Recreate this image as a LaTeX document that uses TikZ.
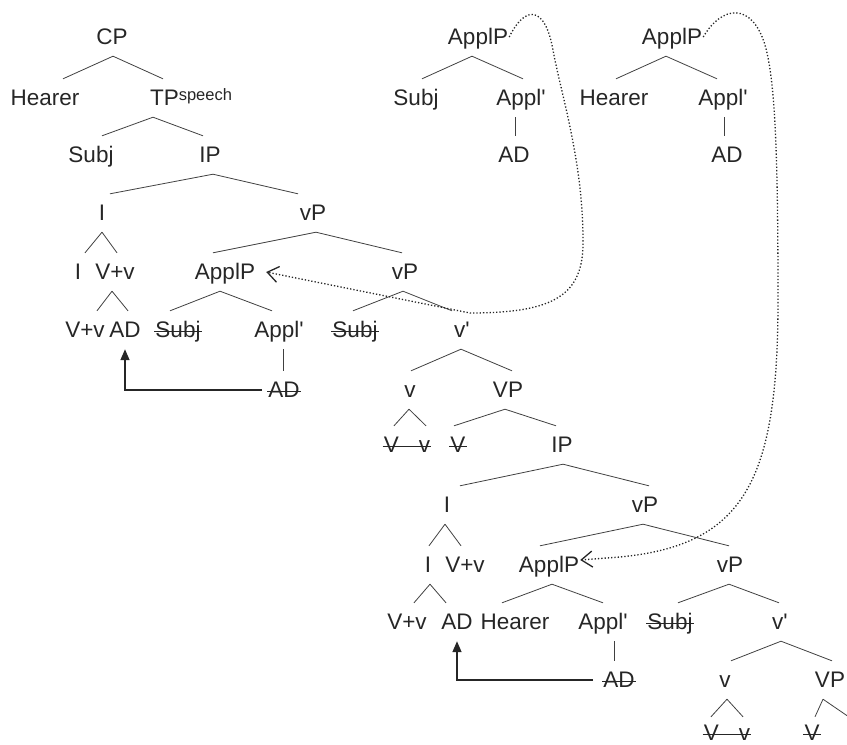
\documentclass[tikz,border=0pt]{standalone}
\usepackage{fontspec}
\setmainfont{Liberation Sans}
\usetikzlibrary{arrows.meta}
\newcommand{\apos}{\textquotesingle}

\begin{document}
\begin{tikzpicture}[x=1pt,y=-1pt,
  cat/.style={font=\fontsize{22.5}{27}\selectfont,text=black!85,inner xsep=1pt,inner ysep=0pt,
    text height=18pt,text depth=3pt,minimum height=38pt},
  lastrow/.style={text depth=1pt,minimum height=30pt},
  branch/.style={draw=black!75,line width=0.8pt},
  strike/.style={draw=black!85,line width=1.4pt},
  move/.style={draw=black!85,line width=1.5pt,-{Triangle[length=11pt,width=9pt]}},
  copy/.style={draw=black!85,line width=1.3pt,dotted,-{Straight Barb[length=11pt,width=16pt]}}]
\path[use as bounding box,clip] (0,0) rectangle (847,745);
% main tree
\node[cat] (cp) at (112,37) {CP};
\node[cat] (hearerA) at (45,98) {Hearer};
\node[cat] (tpS) at (191,98) {TP\raisebox{5pt}{\fontsize{16.5}{17}\selectfont speech}};
\node[cat] (subjA) at (91,155) {Subj};
\node[cat] (ipA) at (210,155) {IP};
\node[cat] (iA) at (102,213) {I};
\node[cat] (vpA) at (313,213) {vP};
\node[cat] (iB) at (78,272) {I};
\node[cat] (vvA) at (115,272) {V+v};
\node[cat] (applA) at (225,272) {ApplP};
\node[cat] (vpB) at (405,272) {vP};
\node[cat] (vvB) at (85,330) {V+v};
\node[cat] (adA) at (125,330) {AD};
\node[cat] (subjB) at (178,330) {Subj};
\node[cat] (applbarA) at (279,330) {Appl\apos};
\node[cat] (subjC) at (355,330) {Subj};
\node[cat] (vbarA) at (462,330) {v\apos};
\node[cat] (adB) at (284,390) {AD};
\node[cat] (vA) at (410,390) {v};
\node[cat] (vpC) at (508,390) {VP};
\node[cat] (vvC) at (407,445) {V\kern20pt v};
\node[cat] (vtrA) at (458,445) {V};
\node[cat] (ipB) at (562,445) {IP};
\node[cat] (iC) at (447,505) {I};
\node[cat] (vpD) at (645,505) {vP};
\node[cat] (iD) at (428,565) {I};
\node[cat] (vvD) at (465,565) {V+v};
\node[cat] (applB) at (549,565) {ApplP};
\node[cat] (vpE) at (730,565) {vP};
\node[cat] (vvE) at (407,622) {V+v};
\node[cat] (adC) at (457,622) {AD};
\node[cat] (hearerB) at (515,622) {Hearer};
\node[cat] (applbarB) at (603,622) {Appl\apos};
\node[cat] (subjD) at (670,622) {Subj};
\node[cat] (vbarB) at (780,622) {v\apos};
\node[cat] (adD) at (619,680) {AD};
\node[cat] (vB) at (725,680) {v};
\node[cat] (vpF) at (830,680) {VP};
\node[cat,lastrow] (vvF) at (727,732) {V\kern20pt v};
\node[cat,lastrow] (vtrB) at (812,732) {V};
\coordinate (offF) at (849,717);
% the two small trees
\node[cat] (applT) at (478,37) {ApplP};
\node[cat] (subjT) at (416,98) {Subj};
\node[cat] (applbarT) at (521,98) {Appl\apos};
\node[cat] (adT) at (514,155) {AD};
\node[cat] (applU) at (672,37) {ApplP};
\node[cat] (hearerU) at (614,98) {Hearer};
\node[cat] (applbarU) at (723,98) {Appl\apos};
\node[cat] (adU) at (727,155) {AD};
\foreach \p/\ps/\c/\cs in {cp/1/hearerA/18, cp/1/tpS/-28, tpS/-38/subjA/11, tpS/-38/ipA/-7,
  ipA/3/iA/8, ipA/3/vpA/-15, iA/0/iB/7, iA/0/vvA/2, vpA/3/applA/-12, vpA/3/vpB/-3,
  vvA/-3/vvB/12, vvA/-3/adA/3, applA/-5/subjB/-8, applA/-5/applbarA/-7, applbarA/4/adB/-1,
  vpB/-2/subjC/-2, vpB/-2/vbarA/-10, vbarA/-1/vA/1, vbarA/-1/vpC/4, vA/-1/vvC/-13, vA/-1/vvC/19,
  vpC/-3/vtrA/-4, vpC/-3/ipB/-6, ipB/1/iC/13, ipB/1/vpD/4, iC/-2/iD/1, iC/-2/vvD/-4,
  vpD/-2/applB/-9, vpD/-2/vpE/-1, vvD/-35/vvE/7, vvD/-35/adC/-11, applB/3/hearerB/-13,
  applB/3/applbarB/0, applbarB/11/adD/-5, vpE/-1/subjD/8, vpE/-1/vbarB/-1, vbarB/1/vB/6,
  vbarB/1/vpF/2, vB/2/vvF/-16, vB/2/vvF/16, vpF/-7/vtrB/3, vpF/-7/offF/0,
  applT/-6/subjT/6, applT/-6/applbarT/2, applbarT/-6/adT/1,
  applU/-6/hearerU/2, applU/-6/applbarU/-6, applbarU/1/adU/-3}
  \draw[branch] ([xshift=\ps pt]\p.south) -- ([xshift=\cs pt]\c.north);
% struck-out copies
\foreach \n in {subjB,subjC,adB,vvC,vtrA,subjD,adD,vvF,vtrB}
  \draw[strike] ([yshift=6pt]\n.base west) -- ([yshift=6pt]\n.base east);
% head movement
\draw[move] ([xshift=-5pt]adB.west) -| (adA.south);
\draw[move] ([xshift=-9pt]adD.west) -| (adC.south);
% copies
\draw[copy] (applT.east) .. controls (525,5) and (545,5) .. (553,50)
  .. controls (560,90) and (583,160) .. (583,240)
  .. controls (584,295) and (555,313) .. (470,313) -- ([xshift=10pt]applA.east);
\draw[copy] (applU.east) .. controls (722,5) and (752,2) .. (765,45)
  .. controls (775,80) and (778,150) .. (778,300)
  .. controls (778,480) and (745,545) .. (620,557) -- ([yshift=5pt]applB.east);
\end{tikzpicture}
\end{document}
